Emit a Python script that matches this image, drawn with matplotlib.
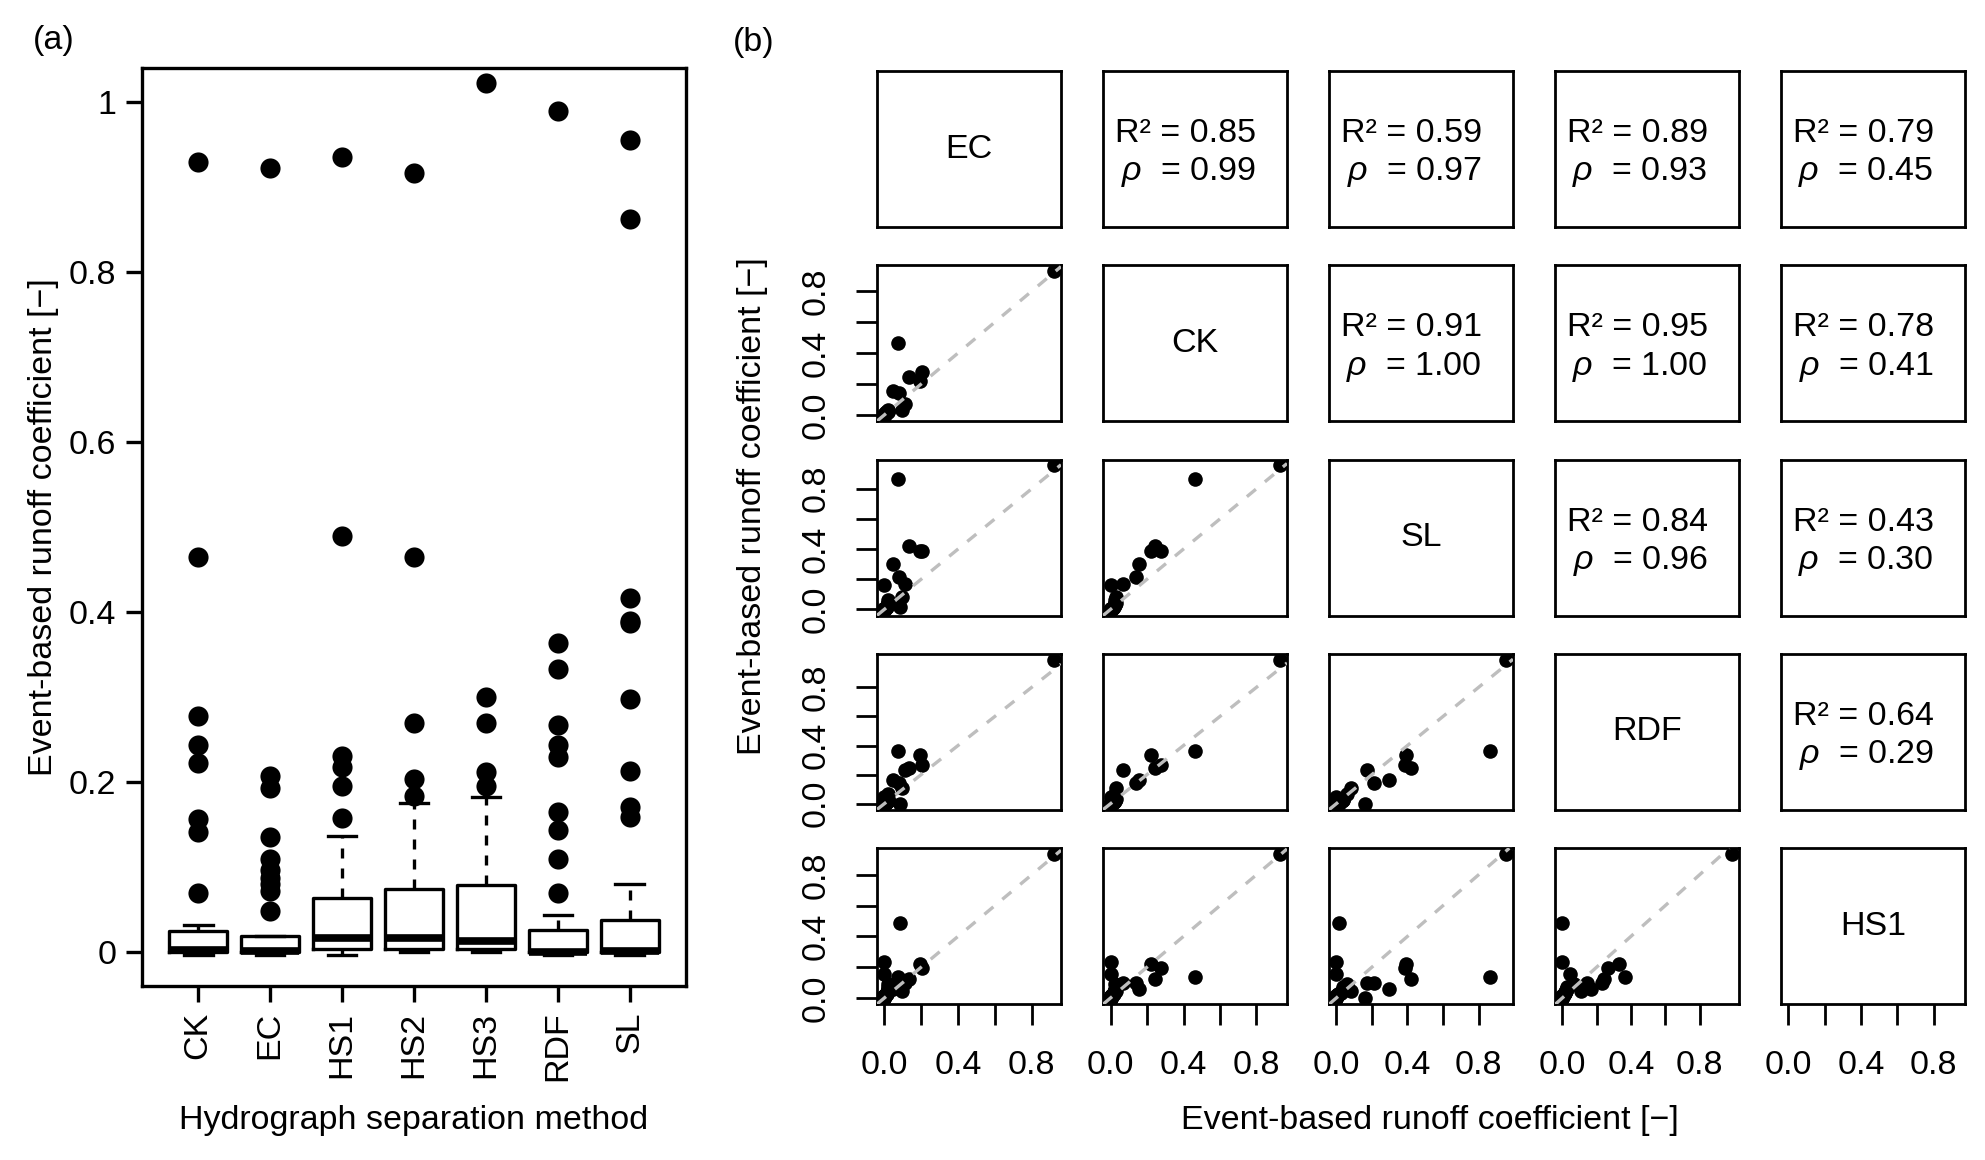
import matplotlib.pyplot as plt
import numpy as np

plt.rcParams.update({
    'font.family': ['Liberation Sans', 'DejaVu Sans'],
    'font.size': 24.5,
    'mathtext.fontset': 'custom',
    'mathtext.rm': 'Liberation Sans',
    'mathtext.it': 'Liberation Sans:italic',
    'mathtext.bf': 'Liberation Sans:bold',
})

# event-based runoff coefficients, first the 14 events that stand out,
# then 34 small events (same event order for every method)
ec_main = [0.922, 0.072, 0.087, 0.207, 0.135, 0.193, 0.048, 0.080, 0.110, 0.000, 0.000, 0.096, 0.000, 0.018]
ck_main = [0.930, 0.465, np.nan, 0.278, 0.244, 0.222, 0.157, 0.141, 0.069, 0.000, 0.000, 0.032, 0.000, 0.025]
sl_main = [0.955, 0.862, 0.017, 0.387, 0.417, 0.390, 0.298, 0.213, 0.171, 0.159, 0.000, 0.080, 0.000, 0.060]
rdf_main = [0.990, 0.364, 0.000, 0.267, 0.243, 0.333, 0.165, 0.143, 0.229, 0.000, 0.000, 0.110, 0.043, 0.069]
hs1_main = [0.935, 0.136, 0.490, 0.195, 0.124, 0.218, 0.060, 0.100, 0.100, 0.000, 0.231, 0.048, 0.158, 0.090]
hs2_main = [0.916, 0.465, 0.175, 0.269, 0.184, 0.204, 0.120, 0.150, 0.140, 0.010, 0.090, 0.072, 0.080, 0.100]
hs3_main = [1.022, 0.300, 0.182, 0.269, 0.195, 0.212, 0.130, 0.160, 0.120, 0.005, 0.095, 0.076, 0.085, 0.110]

ec_small = [-0.003, 0, 0, 0, 0, 0, 0, 0, 0, 0, 0, 0, 0, 0, 0, 0, 0, 0, 0, 0,
            0.001, 0.002, 0.004, 0.006, 0.008, 0.010, 0.012, 0.014, 0.016,
            0.017, 0.018, 0.018, 0.019, 0.019]
ck_small = [-0.004, 0, 0, 0, 0, 0, 0, 0, 0, 0, 0, 0, 0, 0, 0, 0, 0, 0, 0,
            0.001, 0.002, 0.004, 0.007, 0.010, 0.013, 0.016, 0.018, 0.019,
            0.020, 0.021, 0.022, 0.024, 0.027, 0.030]
sl_small = [-0.003, 0, 0, 0, 0, 0, 0, 0, 0, 0, 0, 0, 0, 0, 0, 0, 0, 0, 0, 0, 0, 0,
            0.002, 0.005, 0.008, 0.012, 0.016, 0.020, 0.024, 0.028, 0.032,
            0.035, 0.037, 0.040]
rdf_small = [-0.003, 0, 0, 0, 0, 0, 0, 0, 0, 0, 0, 0, 0, 0, 0, 0, 0, 0, 0, 0, 0,
             0.001, 0.003, 0.006, 0.008, 0.010, 0.012, 0.014, 0.016, 0.018,
             0.020, 0.022, 0.025, 0.030]
hs1_small = [-0.003, 0, 0, 0, 0.001, 0.001, 0.002, 0.002, 0.003, 0.003, 0.003,
             0.004, 0.005, 0.006, 0.007, 0.008, 0.009, 0.010, 0.012, 0.013,
             0.014, 0.015, 0.016, 0.018, 0.020, 0.023, 0.026, 0.030, 0.034,
             0.038, 0.043, 0.052, 0.056, 0.072]
hs2_small = [0, 0, 0, 0, 0, 0, 0.001, 0.001, 0.002, 0.002, 0.003, 0.003,
             0.004, 0.005, 0.006, 0.007, 0.008, 0.009, 0.011, 0.012, 0.013,
             0.015, 0.016, 0.017, 0.020, 0.024, 0.028, 0.032, 0.037, 0.042,
             0.048, 0.055, 0.062, 0.068]
hs3_small = [0, 0, 0, 0, 0, 0, 0, 0.001, 0.001, 0.002, 0.002, 0.003,
             0.003, 0.004, 0.006, 0.006, 0.007, 0.008, 0.009, 0.010, 0.011,
             0.011, 0.012, 0.013, 0.016, 0.020, 0.025, 0.031, 0.038, 0.045,
             0.052, 0.058, 0.064, 0.070]

runoff = {
    'CK': ck_main + ck_small,
    'EC': ec_main + ec_small,
    'HS1': hs1_main + hs1_small,
    'HS2': hs2_main + hs2_small,
    'HS3': hs3_main + hs3_small,
    'RDF': rdf_main + rdf_small,
    'SL': sl_main + sl_small,
}
box_methods = ['CK', 'EC', 'HS1', 'HS2', 'HS3', 'RDF', 'SL']
pair_methods = ['EC', 'CK', 'SL', 'RDF', 'HS1']

# upper panels, row by row
r2_labels = ['0.85', '0.59', '0.89', '0.79', '0.91', '0.95', '0.78', '0.84', '0.43', '0.64']
rho_labels = ['0.99', '0.97', '0.93', '0.45', '1.00', '1.00', '0.41', '0.96', '0.30', '0.29']

W, H = 1985, 1160


def rect(x0, y0, w, h):
    # pixel box (top-left origin) -> figure fraction
    return [x0 / W, 1 - (y0 + h) / H, w / W, h / H]


fig = plt.figure(figsize=(W / 100, H / 100), dpi=100)

# ---------------- (a) boxplots ----------------
ax = fig.add_axes(rect(142, 68, 544, 918))
box_data = []
for m in box_methods:
    v = np.array(runoff[m], dtype=float)
    box_data.append(v[~np.isnan(v)])

ax.boxplot(box_data, positions=range(1, len(box_methods) + 1), widths=0.8,
           whis=1.5, capwidths=0.4,
           boxprops=dict(color='black', lw=2.4),
           medianprops=dict(color='black', lw=5.5, solid_capstyle='butt'),
           whiskerprops=dict(color='black', lw=2.4, linestyle=(0, (3, 3))),
           capprops=dict(color='black', lw=2.4),
           flierprops=dict(marker='o', markerfacecolor='black', markeredgecolor='black',
                           markersize=14.5, markeredgewidth=0))
ax.set_xlim(0.22, 7.78)
ax.set_ylim(-0.04, 1.04)
ax.set_yticks([0, 0.2, 0.4, 0.6, 0.8, 1.0])
ax.set_yticklabels(['0', '0.2', '0.4', '0.6', '0.8', '1'])
ax.set_xticks(range(1, len(box_methods) + 1))
ax.set_xticklabels(box_methods, rotation=90)
ax.tick_params(direction='out', length=11.5, width=2.4, pad=7, labelsize=24.5)
for s in ax.spines.values():
    s.set_linewidth(2.4)

fig.text(44 / W, 1 - 527 / H, 'Event-based runoff coefficient [\u2212]', rotation=90,
         ha='center', va='center', fontsize=24.5)
fig.text(414 / W, 1 - 1121 / H, 'Hydrograph separation method',
         ha='center', va='center', fontsize=24.5)
fig.text(33 / W, 1 - 41 / H, '(a)', ha='left', va='center', fontsize=24.5)

# ---------------- (b) pairs ----------------
lims = {}
for m in pair_methods:
    v = np.array(runoff[m], dtype=float)
    lo, hi = np.nanmin(v), np.nanmax(v)
    ext = 0.04 * (hi - lo)
    lims[m] = (lo - ext, hi + ext)

n = len(pair_methods)
k = 0
for i in range(n):
    for j in range(n):
        a = fig.add_axes(rect(877 + 226 * j, 71 + 194.3 * i, 184, 156))
        for s in a.spines.values():
            s.set_linewidth(2.0)
        a.set_xlim(lims[pair_methods[j]])
        a.set_ylim(lims[pair_methods[i]])
        a.set_xticks([])
        a.set_yticks([])
        if i == j:
            a.text(0.5, 0.5, pair_methods[i], transform=a.transAxes,
                   ha='center', va='center', fontsize=24.5)
        elif i < j:
            a.text(0.83, 0.545, 'R\u00b2 = ' + r2_labels[k], transform=a.transAxes,
                   ha='right', va='baseline', fontsize=24.5)
            a.text(0.83, 0.30, r'$\rho$  = ' + rho_labels[k], transform=a.transAxes,
                   ha='right', va='baseline', fontsize=24.5)
            k += 1
        else:
            x = np.array(runoff[pair_methods[j]], dtype=float)
            y = np.array(runoff[pair_methods[i]], dtype=float)
            ok = ~np.isnan(x) & ~np.isnan(y)
            a.plot(x[ok], y[ok], 'o', color='black', ms=10.5, mew=0, zorder=2)
            a.axline((0, 0), slope=1, color='#bebebe', lw=2.4,
                     linestyle=(0, (3.5, 3.5)), zorder=3)
        ticks = [0, 0.2, 0.4, 0.6, 0.8]
        tlabels = ['0.0', '', '0.4', '', '0.8']
        if i == n - 1:
            a.set_xticks(ticks)
            a.set_xticklabels(tlabels)
        if j == 0 and i > 0:
            a.set_yticks(ticks)
            a.set_yticklabels(tlabels, rotation=90, va='center')
        a.tick_params(direction='out', length=15, width=2.0, pad=18, labelsize=24.5)

fig.text(753 / W, 1 - 506 / H, 'Event-based runoff coefficient [\u2212]', rotation=90,
         ha='center', va='center', fontsize=24.5)
fig.text(1430 / W, 1 - 1121 / H, 'Event-based runoff coefficient [\u2212]',
         ha='center', va='center', fontsize=24.5)
fig.text(733 / W, 1 - 42 / H, '(b)', ha='left', va='center', fontsize=24.5)

fig.savefig('out.png', dpi=100)
